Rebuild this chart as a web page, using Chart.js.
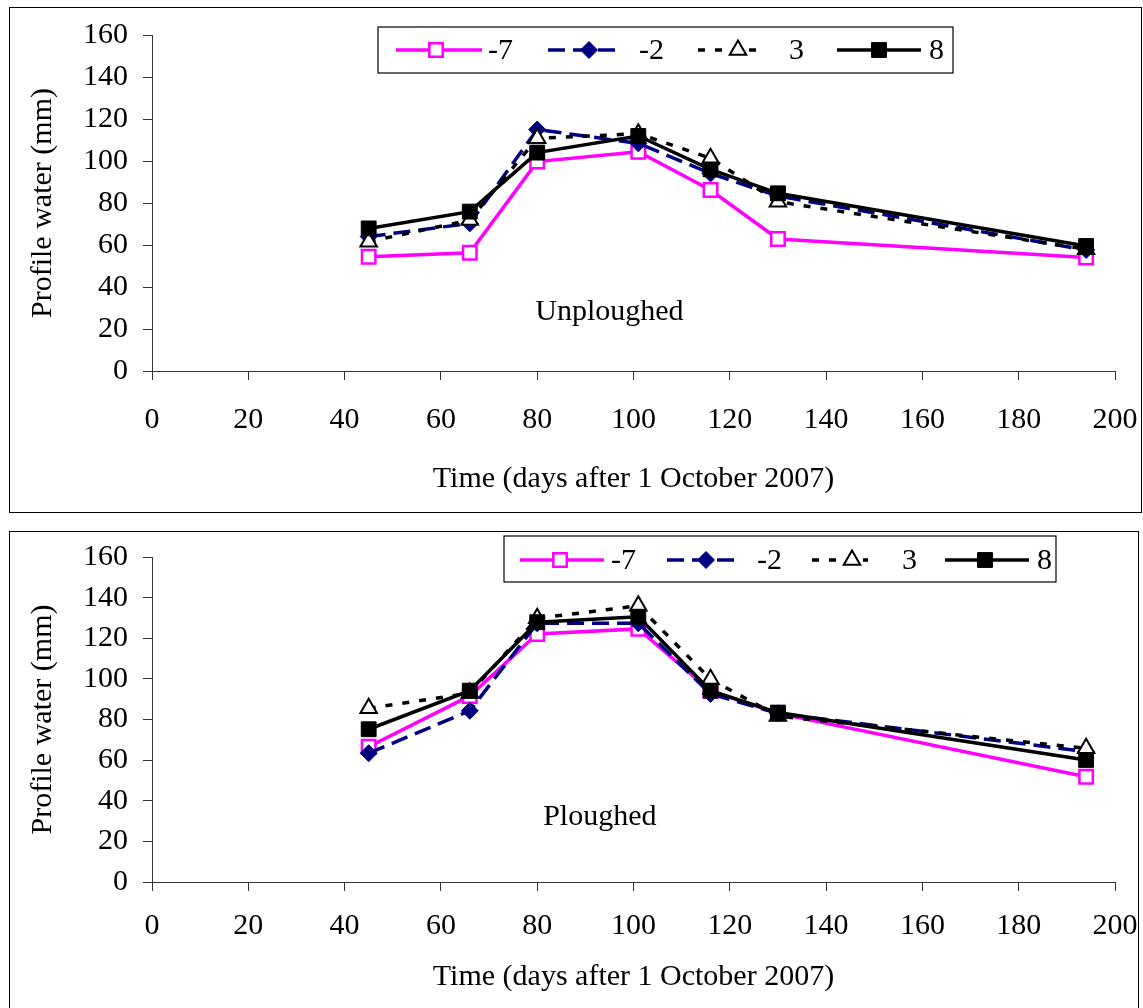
<!DOCTYPE html>
<html><head><meta charset="utf-8">
<script src="https://cdn.jsdelivr.net/npm/chart.js@4/dist/chart.umd.min.js"></script>
<style>
html,body{margin:0;padding:0;background:#fff;}
body{width:1143px;height:1008px;position:relative;overflow:hidden;}
.box{position:absolute;border:1.5px solid #000;box-sizing:border-box;}
#b1{left:9px;top:7px;width:1133px;height:506px;}
#b2{left:9px;top:531px;width:1130px;height:490px;}
canvas{position:absolute;left:0;}
</style></head>
<body>
<div class="box" id="b1"></div><div class="box" id="b2"></div>
<canvas id="c1" width="1143" height="520" style="top:0;width:1143px;height:520px"></canvas>
<canvas id="c2" width="1143" height="488" style="top:520px;width:1143px;height:488px"></canvas>
<script>
// ---- data ----
const days = [45, 66, 80, 101, 116, 130, 194];
const seriesLabels = ['-7', '-2', '3', '8'];
const yTickValues = [0, 20, 40, 60, 80, 100, 120, 140, 160];
const xTickValues = [0, 20, 40, 60, 80, 100, 120, 140, 160, 180, 200];
const unploughedM7 = [54.4, 56.3, 99.7, 104.4, 86.2, 62.9, 54.0];
const unploughedM2 = [64.0, 70.3, 115.0, 108.4, 94.1, 83.3, 57.6];
const unploughedP3 = [61.6, 71.9, 110.8, 113.0, 101.3, 80.6, 58.0];
const unploughedP8 = [67.9, 75.9, 104.0, 111.9, 96.0, 84.6, 59.5];
const ploughedM7 = [66.6, 91.6, 122.1, 124.6, 94.0, 83.0, 51.8];
const ploughedM2 = [63.4, 84.3, 127.4, 127.4, 92.6, 83.0, 64.2];
const ploughedP3 = [85.5, 93.0, 129.8, 136.0, 99.8, 81.7, 65.8];
const ploughedP8 = [75.2, 94.2, 127.9, 130.6, 94.2, 83.4, 60.1];
const xTitle = 'Time (days after 1 October 2007)';
const yTitle = 'Profile water (mm)';

// ---- styles ----
const FONT = "'Liberation Serif', 'Times New Roman', serif";
Chart.defaults.font.family = FONT;
Chart.defaults.color = '#000';

const styles = [
  {borderColor:'#FF00FF', borderWidth:3.5, borderDash:[], pointStyle:'rect', pointRadius:9.5, pointBackgroundColor:'#FFFFFF', pointBorderColor:'#FF00FF', pointBorderWidth:2.5, order:3},
  {borderColor:'#000080', borderWidth:3.5, borderDash:[17,8], pointStyle:'rectRot', pointRadius:8.5, pointBackgroundColor:'#000080', pointBorderColor:'#000080', pointBorderWidth:1, order:2},
  {borderColor:'#000000', borderWidth:3.5, borderDash:[7,10], pointStyle:'triangle', pointRadius:9.5, pointBackgroundColor:'#FFFFFF', pointBorderColor:'#000000', pointBorderWidth:2, order:1},
  {borderColor:'#000000', borderWidth:3.5, borderDash:[], pointStyle:'rect', pointRadius:10.5, pointBackgroundColor:'#000000', pointBorderColor:'#000000', pointBorderWidth:1, order:0}
];

function makeDatasets(arrs){
  return arrs.map((d,i)=>Object.assign({label:seriesLabels[i], data:days.map((x,j)=>({x:x,y:d[j]})), tension:0, clip:false, pointHoverRadius:styles[i].pointRadius}, styles[i]));
}

function drawMarker(ctx, ds, x, y){
  const r = ds.pointRadius;
  ctx.save();
  ctx.fillStyle = ds.pointBackgroundColor;
  ctx.strokeStyle = ds.pointBorderColor;
  ctx.lineWidth = ds.pointBorderWidth;
  ctx.setLineDash([]);
  ctx.beginPath();
  if (ds.pointStyle === 'rect') {
    const s = Math.SQRT1_2 * r;
    ctx.rect(x - s, y - s, 2*s, 2*s);
  } else if (ds.pointStyle === 'rectRot') {
    ctx.moveTo(x, y - r); ctx.lineTo(x + r, y); ctx.lineTo(x, y + r); ctx.lineTo(x - r, y); ctx.closePath();
  } else if (ds.pointStyle === 'triangle') {
    const a = Math.PI*2/3;
    ctx.moveTo(x, y - r);
    ctx.lineTo(x + Math.sin(a)*r, y - Math.cos(a)*r);
    ctx.lineTo(x - Math.sin(a)*r, y - Math.cos(a)*r);
    ctx.closePath();
  }
  ctx.fill(); ctx.stroke();
  ctx.restore();
}

const boxLegend = {
  id:'boxLegend',
  afterDraw(chart, args, opts){
    const ctx = chart.ctx; const L = opts.layout;
    ctx.save();
    ctx.fillStyle = '#fff'; ctx.strokeStyle = '#000'; ctx.lineWidth = 1.2;
    ctx.fillRect(L.box[0], L.box[1], L.box[2]-L.box[0], L.box[3]-L.box[1]);
    ctx.strokeRect(L.box[0], L.box[1], L.box[2]-L.box[0], L.box[3]-L.box[1]);
    chart.data.datasets.forEach((ds,i)=>{
      const it = L.items[i];
      ctx.save();
      ctx.strokeStyle = ds.borderColor; ctx.lineWidth = ds.borderWidth;
      ctx.setLineDash(ds.borderDash || []);
      ctx.beginPath(); ctx.moveTo(it[0], L.cy); ctx.lineTo(it[1], L.cy); ctx.stroke();
      ctx.restore();
      drawMarker(ctx, ds, it[2], L.cy);
      ctx.fillStyle = '#000'; ctx.font = '30px ' + FONT; ctx.textBaseline = 'middle'; ctx.textAlign = 'left';
      ctx.fillText(ds.label, it[3], L.cy + 1);
    });
    ctx.restore();
  }
};

const noteText = {
  id:'noteText',
  afterDraw(chart, args, opts){
    const ctx = chart.ctx;
    const x = chart.scales.x.getPixelForValue(opts.at[0]);
    const y = chart.scales.y.getPixelForValue(opts.at[1]);
    ctx.save(); ctx.fillStyle = '#000'; ctx.font = '30px ' + FONT;
    ctx.textAlign = 'center'; ctx.textBaseline = 'middle';
    ctx.fillText(opts.text, x, y); ctx.restore();
  }
};

function makeChart(id, arrs, cfg){
  return new Chart(document.getElementById(id), {
    type:'line',
    data:{datasets:makeDatasets(arrs)},
    plugins:[boxLegend, noteText],
    options:{
      responsive:false, animation:false, events:[],
      layout:{padding:{left:0, top:cfg.top, right:28, bottom:0}},
      plugins:{legend:{display:false}, tooltip:{enabled:false},
        boxLegend:{layout:cfg.legend}, noteText:{text:cfg.note, at:cfg.noteAt}},
      scales:{
        x:{type:'linear', min:0, max:200,
          afterBuildTicks:(s)=>{s.ticks = xTickValues.map(v=>({value:v}));},
          afterFit:(s)=>{s.height = cfg.xh; s.paddingLeft = 0; s.paddingRight = 0;},
          grid:{drawOnChartArea:false, drawTicks:true, tickLength:9, color:'#333', lineWidth:1},
          border:{display:true, color:'#333', width:1},
          ticks:{font:{size:30}, padding:cfg.xpad, color:'#000', maxRotation:0, autoSkip:false},
          title:{display:true, text:xTitle, font:{size:30}, color:'#000', padding:{top:0, bottom:cfg.xtpad}}
        },
        y:{type:'linear', min:0, max:160,
          afterBuildTicks:(s)=>{s.ticks = yTickValues.map(v=>({value:v}));},
          afterFit:(s)=>{s.width = 152; s.paddingTop = 0; s.paddingBottom = 0;},
          grid:{drawOnChartArea:false, drawTicks:true, tickLength:9, color:'#333', lineWidth:1},
          border:{display:true, color:'#333', width:1},
          ticks:{font:{size:30}, padding:15, color:'#000', autoSkip:false},
          title:{display:true, text:yTitle, font:{size:30}, color:'#000', padding:{top:25, bottom:0}}
        }
      }
    }
  });
}

makeChart('c1', [unploughedM7, unploughedM2, unploughedP3, unploughedP8], {
  top:35, xh:149, xpad:22, xtpad:23,
  note:'Unploughed', noteAt:[95, 28],
  legend:{box:[378,27,953,73], cy:50, items:[[396,482,436,488],[548,620,589,639],[698,756,738,789],[837,921,879,929]]}
});
makeChart('c2', [ploughedM7, ploughedM2, ploughedP3, ploughedP8], {
  top:37, xh:126, xpad:17, xtpad:13,
  note:'Ploughed', noteAt:[93, 32],
  legend:{box:[504,16,1056,62], cy:40, items:[[520,604,560,611],[667,739,706,757],[812,868,852,902],[945,1029,985,1037]]}
});
</script>
</body></html>
